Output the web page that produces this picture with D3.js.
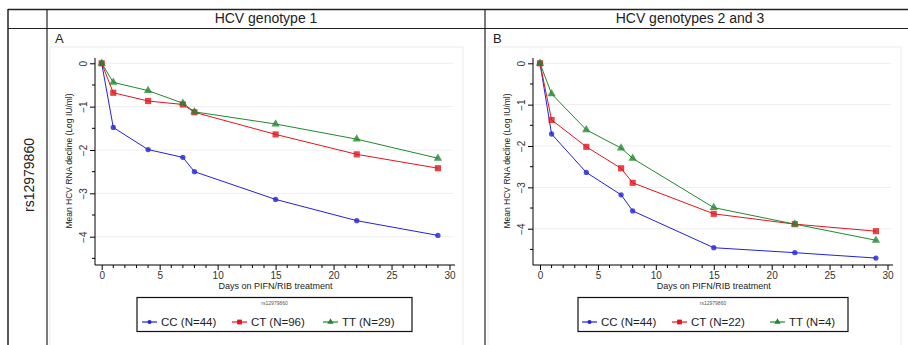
<!DOCTYPE html>
<html>
<head>
<meta charset="utf-8">
<script src="https://cdn.jsdelivr.net/npm/d3@7"></script>
<style>
  body { margin: 0; background: #fff; }
  svg { font-family: "Liberation Sans", Arial, sans-serif; }
</style>
</head>
<body>
<div id="chart"></div>
<script>
// days of measurement, shared by both panels
const days = [0, 1, 4, 7, 8, 15, 22, 29];

// panel A: HCV genotype 1
const ccA = [0, -1.48, -1.99, -2.17, -2.50, -3.14, -3.63, -3.97];
const ctA = [0, -0.68, -0.87, -0.95, -1.13, -1.64, -2.10, -2.42];
const ttA = [0, -0.44, -0.63, -0.92, -1.12, -1.40, -1.75, -2.19];

// panel B: HCV genotypes 2 and 3
const ccB = [0, -1.71, -2.64, -3.18, -3.57, -4.46, -4.58, -4.71];
const ctB = [0, -1.37, -2.02, -2.54, -2.89, -3.64, -3.89, -4.06];
const ttB = [0, -0.74, -1.61, -2.05, -2.30, -3.49, -3.89, -4.28];

const legendA = ['CC (N=44)', 'CT (N=96)', 'TT (N=29)'];
const legendB = ['CC (N=44)', 'CT (N=22)', 'TT (N=4)'];
const xTicks = [0, 5, 10, 15, 20, 25, 30];
const yTicks = [0, -1, -2, -3, -4];

const colors = ['#2222dd', '#e4141c', '#1f8a2e'];
const shapes = [d3.symbolCircle, d3.symbolSquare, d3.symbolTriangle];
const sizes = [22, 38, 30];

const svg = d3.select('#chart').append('svg')
  .attr('width', 908).attr('height', 345);

// table grid
const grid = svg.append('g').attr('stroke', '#222').attr('fill', 'none');
grid.append('line').attr('x1', 8).attr('x2', 908).attr('y1', 9.5).attr('y2', 9.5).attr('stroke-width', 1.5);
grid.append('line').attr('x1', 8).attr('x2', 908).attr('y1', 28.5).attr('y2', 28.5).attr('stroke-width', 1.2);
grid.append('line').attr('x1', 8).attr('x2', 8).attr('y1', 9).attr('y2', 345).attr('stroke-width', 1.5);
grid.append('line').attr('x1', 47).attr('x2', 47).attr('y1', 9).attr('y2', 345).attr('stroke-width', 1.2);
grid.append('line').attr('x1', 485).attr('x2', 485).attr('y1', 9).attr('y2', 345).attr('stroke-width', 1.2);

svg.append('text').attr('x', 266).attr('y', 23).attr('text-anchor', 'middle')
  .attr('font-size', 14).attr('fill', '#222').text('HCV genotype 1');
svg.append('text').attr('x', 690).attr('y', 23).attr('text-anchor', 'middle')
  .attr('font-size', 14).attr('fill', '#222').text('HCV genotypes 2 and 3');
svg.append('text').attr('transform', 'translate(34,175) rotate(-90)')
  .attr('text-anchor', 'middle').attr('font-size', 14).attr('fill', '#222').text('rs12979860');

function panel(opt) {
  const g = svg.append('g');
  // faint graph region
  g.append('rect').attr('x', opt.left - 45).attr('y', 47).attr('width', opt.right - opt.left + 55)
    .attr('height', 300).attr('fill', 'none').attr('stroke', '#ececec');
  g.append('text').attr('x', opt.left - 40).attr('y', 43).attr('font-size', 13)
    .attr('fill', '#222').text(opt.label);

  const x = d3.scaleLinear().domain([0, 30]).range([opt.x0, opt.x30]);
  const y = d3.scaleLinear().domain([0, -4]).range([63.3, opt.y4]);
  const bottom = 265;

  // gridlines
  g.append('g').selectAll('line').data(yTicks).join('line')
    .attr('x1', opt.left).attr('x2', opt.right)
    .attr('y1', d => y(d)).attr('y2', d => y(d))
    .attr('stroke', '#eeeeee').attr('stroke-width', 1);

  // y axis
  const yAxis = g.append('g').attr('transform', `translate(${opt.left},0)`)
    .call(d3.axisLeft(y).tickValues(yTicks).tickSize(5).tickFormat(d3.format('d')))
    .call(a => a.select('.domain').attr('d', `M0,58V${bottom}`));
  yAxis.selectAll('.tick text').attr('transform', 'rotate(-90)')
    .attr('x', 0).attr('y', -12).attr('dy', '0.35em').attr('text-anchor', 'middle')
    .attr('font-size', 10).attr('fill', '#333').attr('font-family', '"Liberation Sans", Arial, sans-serif');
  const minorY = d3.range(-0.5, y.invert(bottom), -1);
  g.append('g').selectAll('line').data(minorY).join('line')
    .attr('x1', opt.left - 3).attr('x2', opt.left)
    .attr('y1', d => y(d)).attr('y2', d => y(d)).attr('stroke', '#000');

  // x axis
  const xAxis = g.append('g').attr('transform', `translate(0,${bottom})`)
    .call(d3.axisBottom(x).tickValues(xTicks).tickSize(5))
    .call(a => a.select('.domain').attr('d', `M${opt.left},0H${opt.right + 2}`));
  xAxis.selectAll('.tick text').attr('font-size', 10).attr('fill', '#333').attr('dy', '0.6em')
    .attr('font-family', '"Liberation Sans", Arial, sans-serif');
  const minorX = d3.range(0, 31).filter(d => d % 5 !== 0);
  g.append('g').selectAll('line').data(minorX).join('line')
    .attr('x1', d => x(d)).attr('x2', d => x(d))
    .attr('y1', bottom).attr('y2', bottom + 3).attr('stroke', '#000');

  g.append('text').attr('x', (opt.x0 + opt.x30) / 2).attr('y', 289).attr('text-anchor', 'middle')
    .attr('font-size', 9).attr('fill', '#222').text('Days on PIFN/RIB treatment');
  g.append('text').attr('transform', `translate(${opt.left - 23},161) rotate(-90)`)
    .attr('text-anchor', 'middle').attr('font-size', 8.5).attr('fill', '#222')
    .text('Mean HCV RNA decline (Log IU/ml)');

  // series
  const line = d3.line().x(d => x(d[0])).y(d => y(d[1]));
  opt.series.forEach((vals, i) => {
    const pts = days.map((d, j) => [d, vals[j]]);
    g.append('path').datum(pts).attr('d', line).attr('fill', 'none')
      .attr('stroke', colors[i]).attr('stroke-width', 1);
  });
  opt.series.forEach((vals, i) => {
    g.append('g').selectAll('path').data(days.map((d, j) => [d, vals[j]])).join('path')
      .attr('transform', d => `translate(${x(d[0])},${y(d[1])})`)
      .attr('d', d3.symbol(shapes[i], sizes[i]))
      .attr('fill', colors[i]).attr('fill-opacity', 0.8);
  });

  // legend
  const lg = g.append('g');
  lg.append('rect').attr('x', opt.lx).attr('y', 297.5).attr('width', opt.lw).attr('height', 34)
    .attr('fill', '#fff').attr('stroke', '#111').attr('stroke-width', 1.2);
  lg.append('text').attr('x', opt.lx + opt.lw / 2).attr('y', 305).attr('text-anchor', 'middle')
    .attr('font-size', 5).attr('fill', '#555').text('rs12979860');
  opt.legend.forEach((t, i) => {
    const lx = opt.items[i];
    lg.append('line').attr('x1', lx).attr('x2', lx + 15).attr('y1', 322).attr('y2', 322)
      .attr('stroke', colors[i]).attr('stroke-width', 1.2);
    lg.append('path').attr('transform', `translate(${lx + 7.5},322)`)
      .attr('d', d3.symbol(shapes[i], sizes[i] * 0.6)).attr('fill', colors[i]);
    lg.append('text').attr('x', lx + 19).attr('y', 326).attr('font-size', 11.5)
      .attr('fill', '#222').text(t);
  });
}

panel({
  label: 'A', left: 95, right: 453, x0: 101.7, x30: 449.5, y4: 236.7,
  series: [ccA, ctA, ttA], legend: legendA,
  lx: 137, lw: 275, items: [142, 232, 323]
});
panel({
  label: 'B', left: 533, right: 891, x0: 540, x30: 887.5, y4: 228.7,
  series: [ccB, ctB, ttB], legend: legendB,
  lx: 578, lw: 270, items: [582, 672, 770]
});
</script>
</body>
</html>
